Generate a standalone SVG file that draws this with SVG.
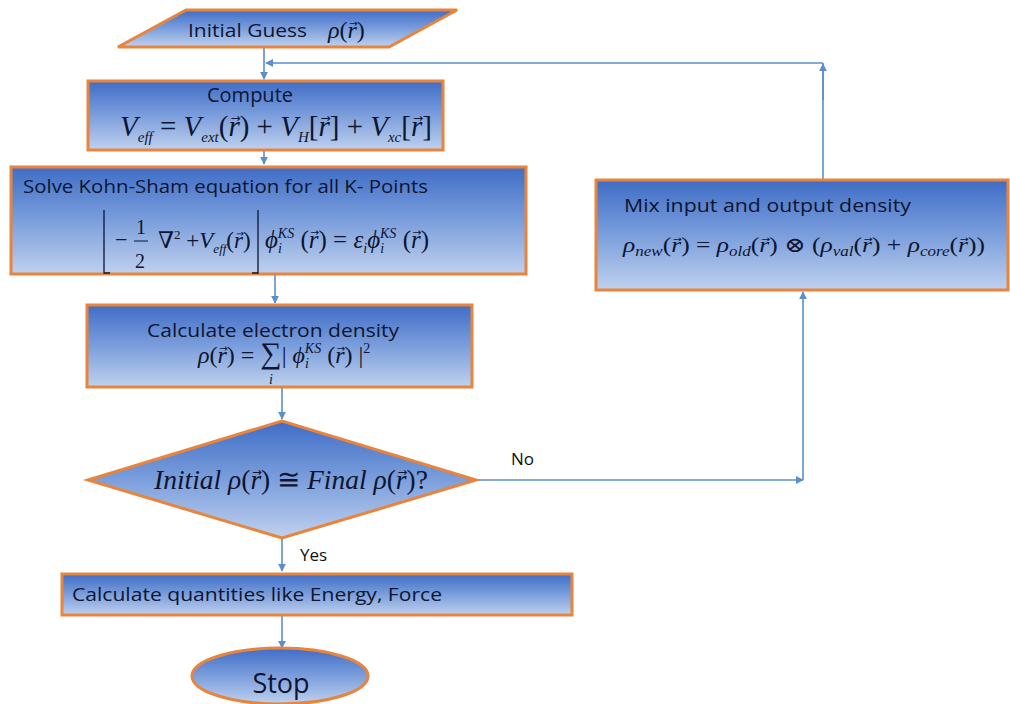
<svg xmlns="http://www.w3.org/2000/svg" width="1010" height="704" viewBox="0 0 1010 704">
<defs>
<linearGradient id="g" x1="0" y1="0" x2="0" y2="1">
<stop offset="0" stop-color="#3F6DC6"/>
<stop offset="0.5" stop-color="#7B9EDC"/>
<stop offset="1" stop-color="#BFD1EE"/>
</linearGradient>
<marker id="ah" viewBox="0 0 10 10" refX="9" refY="5" markerWidth="8" markerHeight="8" markerUnits="userSpaceOnUse" orient="auto">
<path d="M0,0 L10,5 L0,10 z" fill="#5B8FC9"/>
</marker>
<style>
.n{fill:url(#g);stroke:#E8843C;stroke-width:3}
.c{fill:none;stroke:#5B8FC9;stroke-width:1.6}
.t{font-family:"Open Sans","Noto Sans","Liberation Sans",sans-serif;fill:#0d1530}
.m{font-family:"Liberation Serif","DejaVu Serif",serif;fill:#0d1530}
.i{font-style:italic}
.v{font-family:"DejaVu Sans",sans-serif;font-style:normal}
.l{font-family:"Open Sans","Noto Sans","Liberation Sans",sans-serif;fill:#111111}
</style>
</defs>
<rect width="1010" height="704" fill="#ffffff"/>

<g id="connectors">
<path class="c" d="M264,48 V79" marker-end="url(#ah)"/>
<path class="c" d="M264,150 V164" marker-end="url(#ah)"/>
<path class="c" d="M275,275 V303" marker-end="url(#ah)"/>
<path class="c" d="M282,388 V419" marker-end="url(#ah)"/>
<path class="c" d="M282,539 V571" marker-end="url(#ah)"/>
<path class="c" d="M282,616 V648" marker-end="url(#ah)"/>
<path class="c" d="M476,480 H803" marker-end="url(#ah)"/>
<path class="c" d="M803,480 V292" marker-end="url(#ah)"/>
<path class="c" d="M823,180 V63"/>
<path class="c" d="M823,100 V64" marker-end="url(#ah)"/>
<path class="c" d="M823,63 H266" marker-end="url(#ah)"/>
<text class="l" x="511" y="465" font-size="17">No</text>
<text class="l" x="300" y="561" font-size="17">Yes</text>
</g>

<g id="initial">
<polygon class="n" points="186,10 457,10 389,47 118,47"/>
<text class="t" x="188" y="37" font-size="19" textLength="119" lengthAdjust="spacingAndGlyphs">Initial Guess</text>
<text class="m" x="328" y="38" font-size="24"><tspan class="i">ρ</tspan>(<tspan class="i">r</tspan><tspan class="v" font-size="10" dx="-7.7" dy="-11.5">→</tspan><tspan dx="-0.8" dy="11.5">)</tspan></text>
</g>

<g id="compute">
<rect class="n" x="88" y="81" width="355" height="69"/>
<text class="t" x="250" y="102" font-size="20" text-anchor="middle">Compute</text>
<text class="m" x="120" y="136" font-size="29"><tspan class="i">V</tspan><tspan class="i" font-size="15" dy="6">eff</tspan><tspan dy="-6"> = </tspan><tspan class="i">V</tspan><tspan class="i" font-size="15" dy="6">ext</tspan><tspan dy="-6">(</tspan><tspan class="i">r</tspan><tspan class="v" font-size="12" dx="-9.2" dy="-14">→</tspan><tspan dx="-0.9" dy="14">) + </tspan><tspan class="i">V</tspan><tspan class="i" font-size="15" dy="6">H</tspan><tspan dy="-6">[</tspan><tspan class="i">r</tspan><tspan class="v" font-size="12" dx="-9.2" dy="-14">→</tspan><tspan dx="-0.9" dy="14">] + </tspan><tspan class="i">V</tspan><tspan class="i" font-size="15" dy="6">xc</tspan><tspan dy="-6">[</tspan><tspan class="i">r</tspan><tspan class="v" font-size="12" dx="-9.2" dy="-14">→</tspan><tspan dx="-0.9" dy="14">]</tspan></text>
</g>

<g id="kohnsham">
<rect class="n" x="11" y="167" width="515" height="107"/>
<text class="t" x="23" y="193" font-size="19" textLength="405" lengthAdjust="spacingAndGlyphs">Solve Kohn-Sham equation for all K- Points</text>
<path d="M104,210 V273 H110 M258,210 V273 H252" fill="none" stroke="#0d1530" stroke-width="1.3"/>
<text class="m" x="115" y="247" font-size="22">−</text>
<text class="m" x="136" y="234" font-size="20">1</text>
<line x1="134" y1="241" x2="148" y2="241" stroke="#0d1530" stroke-width="1"/>
<text class="m" x="135" y="268" font-size="20">2</text>
<text class="m" x="158" y="248" font-size="23">∇<tspan font-size="13" dy="-9">2</tspan><tspan dy="9"> +</tspan><tspan class="i">V</tspan><tspan class="i" font-size="13" dy="5">eff</tspan><tspan dy="-5">(</tspan><tspan class="i">r</tspan><tspan class="v" font-size="9.6" dx="-7.3" dy="-11">→</tspan><tspan dx="-0.7" dy="11">)</tspan></text>
<text class="m" x="265" y="248" font-size="25"><tspan class="i">ϕ</tspan><tspan class="i" font-size="14" dy="5">i</tspan><tspan class="i" font-size="14" dx="-4" dy="-15">KS</tspan><tspan dy="10"> (</tspan><tspan class="i">r</tspan><tspan class="v" font-size="10.5" dx="-8" dy="-12">→</tspan><tspan dx="-0.8" dy="12">) = </tspan><tspan class="i">ε</tspan><tspan class="i" font-size="14" dy="5">i</tspan><tspan class="i" dy="-5">ϕ</tspan><tspan class="i" font-size="14" dy="5">i</tspan><tspan class="i" font-size="14" dx="-4" dy="-15">KS</tspan><tspan dy="10"> (</tspan><tspan class="i">r</tspan><tspan class="v" font-size="10.5" dx="-8" dy="-12">→</tspan><tspan dx="-0.8" dy="12">)</tspan></text>
</g>

<g id="density">
<rect class="n" x="87" y="305" width="385" height="82"/>
<text class="t" x="273" y="337" font-size="19" text-anchor="middle" textLength="252" lengthAdjust="spacingAndGlyphs">Calculate electron density</text>
<text class="m" x="198" y="363" font-size="24"><tspan class="i">ρ</tspan>(<tspan class="i">r</tspan><tspan class="v" font-size="10" dx="-7.7" dy="-11.5">→</tspan><tspan dx="-0.8" dy="11.5">) = </tspan><tspan font-size="30">∑</tspan>| <tspan class="i">ϕ</tspan><tspan class="i" font-size="14" dy="5">i</tspan><tspan class="i" font-size="14" dx="-4" dy="-15">KS</tspan><tspan dy="10">  (</tspan><tspan class="i">r</tspan><tspan class="v" font-size="10" dx="-7.7" dy="-11.5">→</tspan><tspan dx="-0.8" dy="11.5">) |</tspan><tspan font-size="14" dy="-10">2</tspan></text>
<text class="m i" x="269" y="384" font-size="14">i</text>
</g>

<g id="decision">
<polygon class="n" points="88,480 282,421 476,480 282,538"/>
<text class="m" x="154" y="489" font-size="27.5"><tspan class="i">Initial ρ</tspan>(<tspan class="i">r</tspan><tspan class="v" font-size="11.5" dx="-8.8" dy="-13.2">→</tspan><tspan dx="-0.9" dy="13.2">) ≅ </tspan><tspan class="i">Final ρ</tspan>(<tspan class="i">r</tspan><tspan class="v" font-size="11.5" dx="-8.8" dy="-13.2">→</tspan><tspan dx="-0.9" dy="13.2">)?</tspan></text>
</g>

<g id="quantities">
<rect class="n" x="62" y="574" width="510" height="41"/>
<text class="t" x="72" y="601" font-size="19" textLength="370" lengthAdjust="spacingAndGlyphs">Calculate quantities like Energy, Force</text>
</g>

<g id="stop">
<ellipse class="n" cx="280" cy="676" rx="88" ry="28"/>
<text class="t" x="281" y="693" font-size="27" text-anchor="middle">Stop</text>
</g>

<g id="mix">
<rect class="n" x="596" y="180" width="412" height="110"/>
<text class="t" x="624" y="212" font-size="19" textLength="287" lengthAdjust="spacingAndGlyphs">Mix input and output density</text>
<text class="m" x="623" y="252" font-size="21" textLength="362" lengthAdjust="spacingAndGlyphs"><tspan class="i">ρ</tspan><tspan class="i" font-size="14" dy="4">new</tspan><tspan dy="-4">(</tspan><tspan class="i">r</tspan><tspan class="v" font-size="8.8" dx="-6.7" dy="-10">→</tspan><tspan dx="-0.7" dy="10">) = </tspan><tspan class="i">ρ</tspan><tspan class="i" font-size="14" dy="4">old</tspan><tspan dy="-4">(</tspan><tspan class="i">r</tspan><tspan class="v" font-size="8.8" dx="-6.7" dy="-10">→</tspan><tspan dx="-0.7" dy="10">) ⊗ (</tspan><tspan class="i">ρ</tspan><tspan class="i" font-size="14" dy="4">val</tspan><tspan dy="-4">(</tspan><tspan class="i">r</tspan><tspan class="v" font-size="8.8" dx="-6.7" dy="-10">→</tspan><tspan dx="-0.7" dy="10">) + </tspan><tspan class="i">ρ</tspan><tspan class="i" font-size="14" dy="4">core</tspan><tspan dy="-4">(</tspan><tspan class="i">r</tspan><tspan class="v" font-size="8.8" dx="-6.7" dy="-10">→</tspan><tspan dx="-0.7" dy="10">))</tspan></text>
</g>
</svg>
